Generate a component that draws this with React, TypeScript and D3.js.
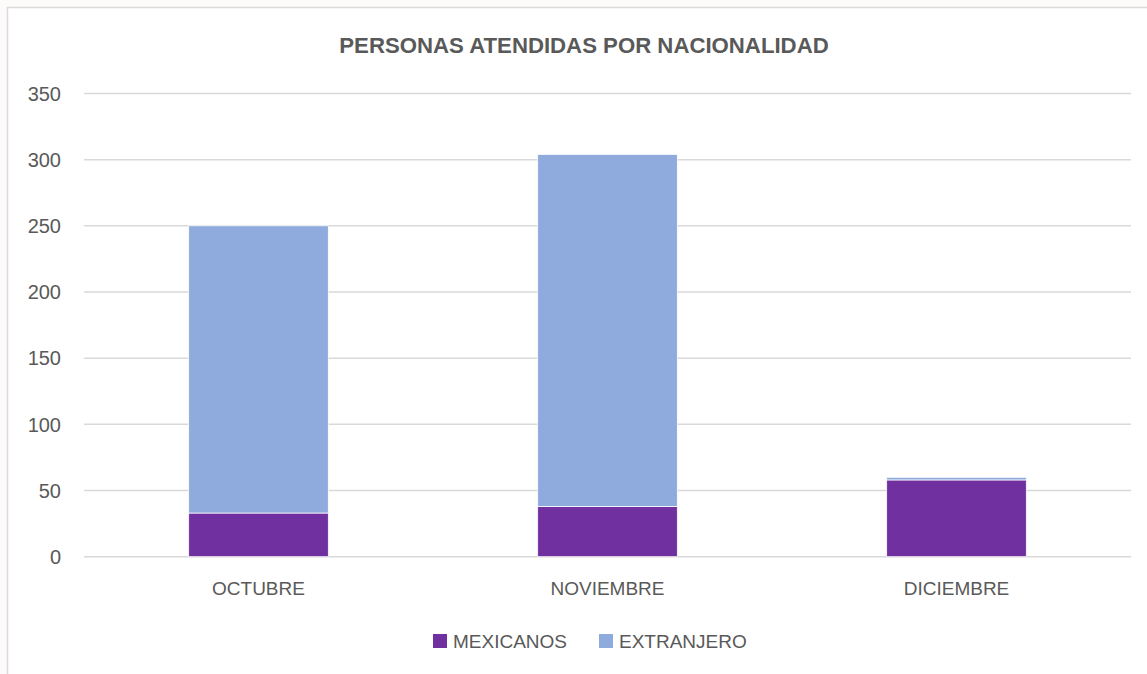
import React from "react";
import * as d3 from "d3";

const title = "PERSONAS ATENDIDAS POR NACIONALIDAD";
const categories = ["OCTUBRE", "NOVIEMBRE", "DICIEMBRE"];
const seriesNames = ["MEXICANOS", "EXTRANJERO"];
const mexicanos = [33, 38, 58];
const extranjero = [217, 266, 2];
const yTicks = [0, 50, 100, 150, 200, 250, 300, 350];
const colors = ["#7030A0", "#8FAADC"];

const W = 1147;
const H = 674;
const FONT = "'Liberation Sans', Arial, sans-serif";
const TXT = "#595959";

export default function App() {
  const x = d3
    .scaleBand<string>()
    .domain(categories)
    .range([84, 1131])
    .paddingInner(0.6)
    .paddingOuter(0.3);
  const y = d3.scaleLinear().domain([0, 350]).range([556.7, 93.5]);

  const rows = categories.map((c, i) => ({
    cat: c,
    MEXICANOS: mexicanos[i],
    EXTRANJERO: extranjero[i],
  }));
  const stacked = d3.stack<any>().keys(seriesNames)(rows);

  const legendItems = [
    { name: seriesNames[0], sx: 433, tx: 453 },
    { name: seriesNames[1], sx: 599, tx: 619 },
  ];

  return (
    <svg
      width={W}
      height={H}
      style={{ position: "absolute", left: 0, top: 0, display: "block" }}
      fontFamily={FONT}
    >
      <rect x={0} y={0} width={W} height={H} fill="#FCFBF9" />
      <rect
        x={7.5}
        y={7.5}
        width={W + 10}
        height={H + 10}
        fill="#FFFFFF"
        stroke="#D9D9D9"
        strokeWidth={1.5}
      />
      <text
        x={584}
        y={53}
        textAnchor="middle"
        fontSize={22.2}
        fontWeight="bold"
        fill={TXT}
      >
        {title}
      </text>
      {yTicks.map((t) => (
        <g key={t}>
          <line
            x1={84}
            x2={1131}
            y1={y(t)}
            y2={y(t)}
            stroke="#D9D9D9"
            strokeWidth={1.5}
          />
          <text
            x={61}
            y={y(t)}
            dy="0.36em"
            textAnchor="end"
            fontSize={20}
            fill={TXT}
          >
            {t}
          </text>
        </g>
      ))}
      {stacked.map((s, si) => (
        <g key={s.key} fill={colors[si]}>
          {s.map((d: any, i: number) => (
            <rect
              key={i}
              x={x(categories[i])}
              width={x.bandwidth()}
              y={y(d[1])}
              height={Math.max(0, y(d[0]) - y(d[1]))}
              stroke="#FFFFFF"
              strokeWidth={0.75}
            />
          ))}
        </g>
      ))}
      {categories.map((c) => (
        <text
          key={c}
          x={(x(c) as number) + x.bandwidth() / 2}
          y={595}
          textAnchor="middle"
          fontSize={19}
          fill={TXT}
        >
          {c}
        </text>
      ))}
      {legendItems.map((l, i) => (
        <g key={l.name}>
          <rect x={l.sx} y={634} width={14} height={14} fill={colors[i]} />
          <text x={l.tx} y={647.5} fontSize={19} fill={TXT}>
            {l.name}
          </text>
        </g>
      ))}
    </svg>
  );
}
